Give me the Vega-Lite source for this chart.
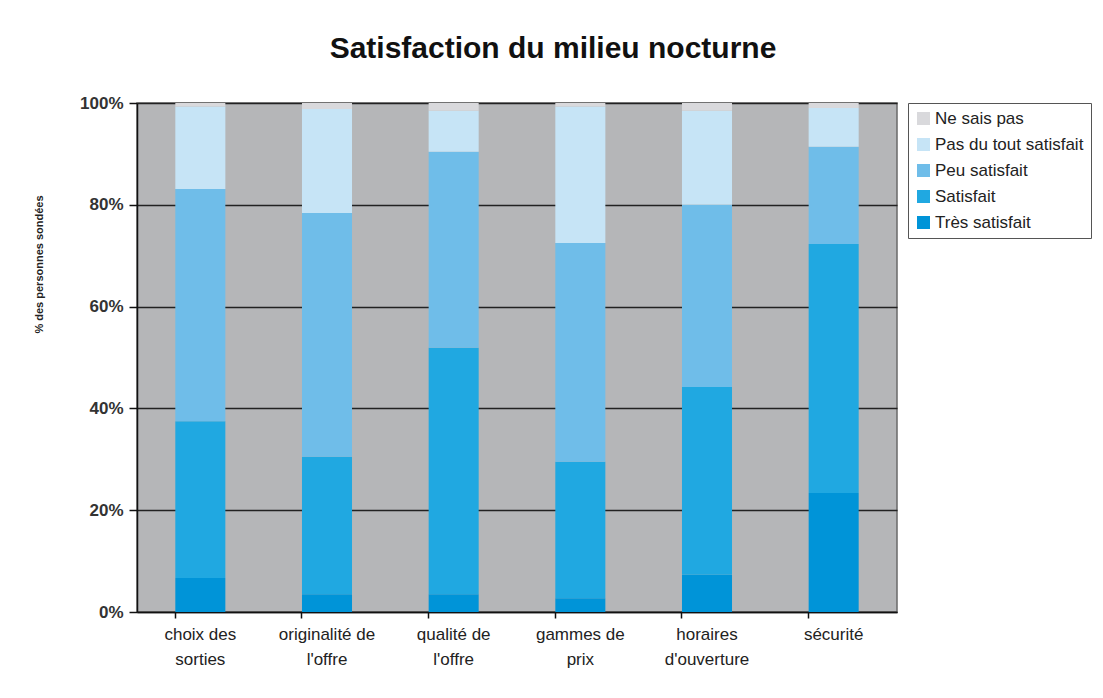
{
  "$schema": "https://vega.github.io/schema/vega-lite/v6.json",
  "autosize": "none",
  "width": 760,
  "height": 509,
  "padding": {"left": 137, "top": 103, "right": 206, "bottom": 86},
  "background": "white",
  "title": {
    "text": "Satisfaction du milieu nocturne",
    "font": "Liberation Sans",
    "fontSize": 30,
    "fontWeight": "bold",
    "color": "#111",
    "anchor": "middle",
    "dx": 36,
    "offset": 30
  },
  "data": {
    "values": [
      {"categorie": "choix des|sorties", "reponse": "Très satisfait", "valeur": 6.7},
      {"categorie": "choix des|sorties", "reponse": "Satisfait", "valeur": 30.8},
      {"categorie": "choix des|sorties", "reponse": "Peu satisfait", "valeur": 45.6},
      {"categorie": "choix des|sorties", "reponse": "Pas du tout satisfait", "valeur": 16.2},
      {"categorie": "choix des|sorties", "reponse": "Ne sais pas", "valeur": 0.7},
      {"categorie": "originalité de|l'offre", "reponse": "Très satisfait", "valeur": 3.5},
      {"categorie": "originalité de|l'offre", "reponse": "Satisfait", "valeur": 27.0},
      {"categorie": "originalité de|l'offre", "reponse": "Peu satisfait", "valeur": 47.9},
      {"categorie": "originalité de|l'offre", "reponse": "Pas du tout satisfait", "valeur": 20.4},
      {"categorie": "originalité de|l'offre", "reponse": "Ne sais pas", "valeur": 1.2},
      {"categorie": "qualité de|l'offre", "reponse": "Très satisfait", "valeur": 3.5},
      {"categorie": "qualité de|l'offre", "reponse": "Satisfait", "valeur": 48.4},
      {"categorie": "qualité de|l'offre", "reponse": "Peu satisfait", "valeur": 38.5},
      {"categorie": "qualité de|l'offre", "reponse": "Pas du tout satisfait", "valeur": 8.1},
      {"categorie": "qualité de|l'offre", "reponse": "Ne sais pas", "valeur": 1.5},
      {"categorie": "gammes de|prix", "reponse": "Très satisfait", "valeur": 2.7},
      {"categorie": "gammes de|prix", "reponse": "Satisfait", "valeur": 26.8},
      {"categorie": "gammes de|prix", "reponse": "Peu satisfait", "valeur": 43.0},
      {"categorie": "gammes de|prix", "reponse": "Pas du tout satisfait", "valeur": 26.8},
      {"categorie": "gammes de|prix", "reponse": "Ne sais pas", "valeur": 0.7},
      {"categorie": "horaires|d'ouverture", "reponse": "Très satisfait", "valeur": 7.3},
      {"categorie": "horaires|d'ouverture", "reponse": "Satisfait", "valeur": 36.9},
      {"categorie": "horaires|d'ouverture", "reponse": "Peu satisfait", "valeur": 35.8},
      {"categorie": "horaires|d'ouverture", "reponse": "Pas du tout satisfait", "valeur": 18.5},
      {"categorie": "horaires|d'ouverture", "reponse": "Ne sais pas", "valeur": 1.5},
      {"categorie": "sécurité", "reponse": "Très satisfait", "valeur": 23.4},
      {"categorie": "sécurité", "reponse": "Satisfait", "valeur": 48.9},
      {"categorie": "sécurité", "reponse": "Peu satisfait", "valeur": 19.1},
      {"categorie": "sécurité", "reponse": "Pas du tout satisfait", "valeur": 7.6},
      {"categorie": "sécurité", "reponse": "Ne sais pas", "valeur": 1.0}
    ]
  },
  "mark": {"type": "bar"},
  "encoding": {
    "x": {
      "field": "categorie",
      "type": "nominal",
      "sort": null,
      "scale": {"paddingInner": 0.605, "paddingOuter": 0.3025},
      "axis": {
        "title": null,
        "labelExpr": "split(datum.value, '|')",
        "labelAngle": 0,
        "labelFont": "Liberation Sans",
        "labelFontSize": 17,
        "labelColor": "#222",
        "labelLineHeight": 25,
        "labelPadding": 8,
        "labelBaseline": "top",
        "bandPosition": 0,
        "domainColor": "#111",
        "domainWidth": 1.5,
        "tickColor": "#111",
        "tickSize": 6,
        "tickWidth": 1.5,
        "grid": false
      }
    },
    "y": {
      "field": "valeur",
      "type": "quantitative",
      "stack": "zero",
      "scale": {"domain": [0, 100], "nice": false},
      "axis": {
        "title": "% des personnes sondées",
        "titleFont": "Liberation Sans",
        "titleFontSize": 11,
        "titleFontWeight": "bold",
        "titleColor": "#222",
        "titleX": -93,
        "titleY": 161,
        "values": [0, 20, 40, 60, 80, 100],
        "labelExpr": "datum.value + '%'",
        "labelFont": "Liberation Sans",
        "labelFontSize": 17,
        "labelFontWeight": "bold",
        "labelColor": "#333",
        "labelPadding": 6,
        "domainColor": "#111",
        "domainWidth": 1.5,
        "tickColor": "#111",
        "tickSize": 8,
        "tickWidth": 1.5,
        "grid": true,
        "gridColor": "#222",
        "gridWidth": 1.5
      }
    },
    "color": {
      "field": "reponse",
      "type": "nominal",
      "scale": {
        "domain": ["Ne sais pas", "Pas du tout satisfait", "Peu satisfait", "Satisfait", "Très satisfait"],
        "range": ["#d9d9dc", "#c6e4f6", "#6fbde9", "#20a8e1", "#0094d8"]
      },
      "legend": {
        "title": null,
        "orient": "none",
        "legendX": 771,
        "legendY": 0,
        "symbolType": "square",
        "symbolSize": 170,
        "symbolStrokeWidth": 0,
        "labelFont": "Liberation Sans",
        "labelFontSize": 17,
        "labelColor": "#222",
        "labelOffset": 3,
        "rowPadding": 8,
        "padding": 7,
        "fillColor": "white",
        "strokeColor": "#555",
        "labelLimit": 300
      }
    },
    "order": {"field": "reponse", "sort": "descending"}
  },
  "config": {
    "view": {"fill": "#b5b6b8", "stroke": "#6a6a6a", "strokeWidth": 1.5}
  }
}
